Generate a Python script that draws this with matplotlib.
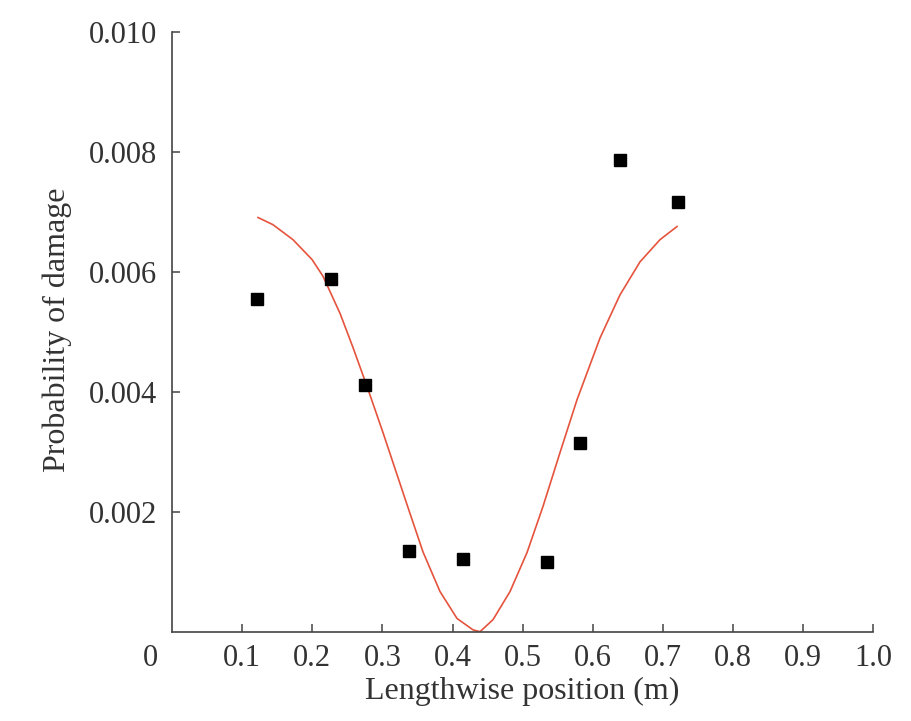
import numpy as np
from matplotlib import pyplot as plt

# measured damage probability along the length
pos = [0.121, 0.227, 0.275, 0.338, 0.415, 0.535, 0.582, 0.639, 0.722]
prob = [0.00555, 0.00589, 0.00412, 0.00135, 0.00122, 0.00117, 0.00315, 0.00787, 0.00717]

# fitted curve
fit_x = [0.1226, 0.1440, 0.1725, 0.1996, 0.2153, 0.2396, 0.2581, 0.2781, 0.3009,
         0.3351, 0.3579, 0.3821, 0.4064, 0.4292, 0.4392, 0.4577, 0.4820,
         0.5062, 0.5290, 0.5533, 0.5775, 0.6103, 0.6388, 0.6673, 0.6958, 0.7201]
fit_y = [0.00691, 0.00679, 0.00654, 0.00621, 0.00593, 0.00531, 0.00474, 0.00409, 0.00332,
         0.00212, 0.00133, 0.00067, 0.00022, 0.00003, 0.0, 0.00020, 0.00067,
         0.00132, 0.00209, 0.00299, 0.00387, 0.00490, 0.00562, 0.00617, 0.00654, 0.00676]

xticks = [0.1, 0.2, 0.3, 0.4, 0.5, 0.6, 0.7, 0.8, 0.9, 1.0]
yticks = [0.002, 0.004, 0.006, 0.008, 0.010]

plt.rcParams['font.family'] = 'Liberation Serif'
plt.rcParams['font.size'] = 22
txt = '#333333'

fig = plt.figure(figsize=(9.12, 7.21), dpi=100)
ax = fig.add_axes([0.1886, 0.1239, 0.7690, 0.8313])

ax.plot(fit_x, fit_y, color='#e5533d', lw=1.2)
ax.plot(pos, prob, 's', color='black', markersize=8.5, mec='black')

ax.set_xlim(0, 1.0)
ax.set_ylim(0, 0.010)
ax.set_xticks(xticks)
ax.set_xticklabels([f'{t:.1f}' for t in xticks])
ax.set_yticks(yticks)
ax.set_yticklabels([f'{t:.3f}' for t in yticks])

for s in ['top', 'right']:
    ax.spines[s].set_visible(False)
for s in ['left', 'bottom']:
    ax.spines[s].set_color('#444444')
    ax.spines[s].set_linewidth(1.2)

ax.tick_params(direction='in', length=6, width=1.1, color='#444444', labelcolor=txt)
ax.tick_params(axis='x', pad=9)
ax.tick_params(axis='y', pad=11)

# origin label sits apart from the axis
ax.text(-0.031, -0.044, '0', transform=ax.transAxes, ha='center', va='center', color=txt)

ax.set_xlabel('Lengthwise position (m)', color=txt, fontsize=23)
ax.xaxis.set_label_coords(0.5, -0.076)
ax.set_ylabel('Probability of damage', color=txt, fontsize=23)
ax.yaxis.set_label_coords(-0.143, 0.503)

plt.savefig('out.png', dpi=100)
